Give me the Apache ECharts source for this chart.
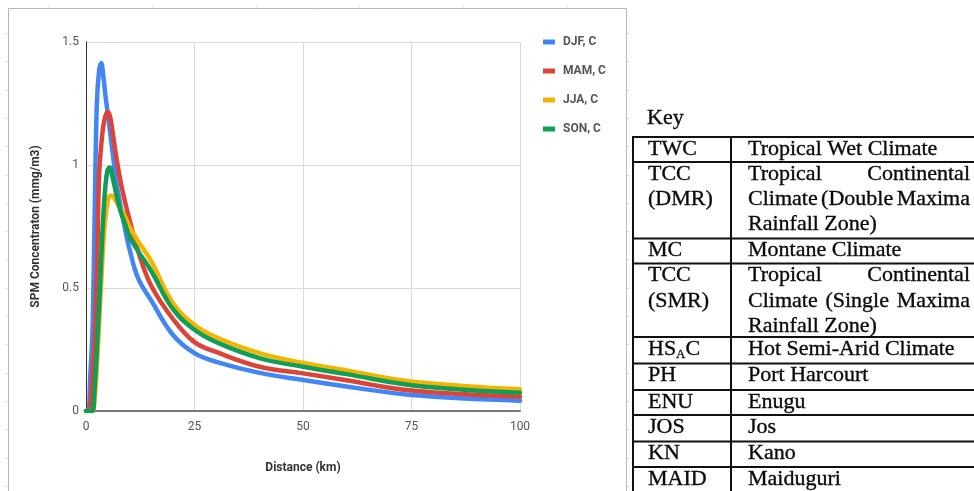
<!DOCTYPE html>
<html>
<head>
<meta charset="utf-8">
<script src="https://cdn.jsdelivr.net/npm/echarts@6/dist/echarts.min.js"></script>
<style>
  html, body { margin: 0; padding: 0; background: #ffffff; }
  #chart { width: 974px; height: 491px; }
</style>
</head>
<body>
<div id="chart"></div>
<script>
// Ground-level SPM concentration against downwind distance, stability class C
const distanceKm = [0, 0.5, 1, 1.5, 2, 2.5, 3, 3.5, 4, 4.5, 5, 5.5, 6, 7, 8, 9, 10, 12, 15, 20, 25, 30, 40, 50, 60, 75, 100];
const djf = [0, 0, 0.15, 0.33, 0.8, 1.25, 1.38, 1.415, 1.36, 1.28, 1.21, 1.14, 1.07, 0.93, 0.83, 0.74, 0.66, 0.54, 0.45, 0.31, 0.235, 0.2, 0.155, 0.126, 0.1, 0.065, 0.042];
const mam = [0, 0, 0.02, 0.15, 0.3, 0.55, 0.95, 1.08, 1.16, 1.2, 1.215, 1.2, 1.15, 1.03, 0.93, 0.85, 0.78, 0.65, 0.51, 0.375, 0.28, 0.24, 0.18, 0.153, 0.125, 0.083, 0.058];
const jja = [0, 0, 0, 0, 0.05, 0.18, 0.35, 0.52, 0.68, 0.79, 0.85, 0.875, 0.875, 0.85, 0.82, 0.79, 0.75, 0.69, 0.61, 0.44, 0.35, 0.3, 0.235, 0.195, 0.165, 0.12, 0.088];
const son = [0, 0, 0, 0, 0.1, 0.25, 0.42, 0.62, 0.8, 0.92, 0.98, 0.99, 0.96, 0.88, 0.81, 0.76, 0.71, 0.65, 0.57, 0.415, 0.33, 0.28, 0.215, 0.18, 0.15, 0.105, 0.074];

const seriesNames = ['DJF, C', 'MAM, C', 'JJA, C', 'SON, C'];
const seriesColors = ['#4285f4', '#db4437', '#f4b400', '#0f9d58'];

const xTicks = [0, 25, 50, 75, 100];
const yTicks = [0, 0.5, 1, 1.5];

// Key table content
const keyAbbr = [['TWC'], ['TCC', '(DMR)'], ['MC'], ['TCC', '(SMR)'], ['HSAC'], ['PH'], ['ENU'], ['JOS'], ['KN'], ['MAID']];
const keyDesc = [
  ['Tropical Wet Climate'],
  ['Tropical Continental', 'Climate (Double Maxima', 'Rainfall Zone)'],
  ['Montane Climate'],
  ['Tropical Continental', 'Climate (Single Maxima', 'Rainfall Zone)'],
  ['Hot Semi-Arid Climate'],
  ['Port Harcourt'],
  ['Enugu'],
  ['Jos'],
  ['Kano'],
  ['Maiduguri']
];

const chart = echarts.init(document.getElementById('chart'), null, { renderer: 'canvas' });

const allSeries = [djf, mam, jja, son].map(function (vals, i) {
  return {
    name: seriesNames[i],
    type: 'line',
    data: distanceKm.map(function (d, k) { return [d, vals[k]]; }),
    smooth: 0.4,
    showSymbol: false,
    symbol: 'none',
    lineStyle: { width: 4.5, color: seriesColors[i], cap: 'round', join: 'round' },
    itemStyle: { color: seriesColors[i] },
    emphasis: { disabled: true },
    z: 2 + i
  };
});

// ---- key table drawn as graphic elements ----
const serif = '"Liberation Serif", "DejaVu Serif", serif';
const tableFont = 22;
const ink = '#0a0a0a';
const rowTops = [137, 162, 238.5, 263.5, 337, 363.5, 390, 415, 441.5, 467];
const tableLeft = 633, colSplit = 731, tableRightText = 970, tableBottom = 495;
const abbrX = 648, descX = 748, lineStep = 25.3;

const measureCtx = document.createElement('canvas').getContext('2d');
measureCtx.font = tableFont + 'px ' + serif;

const graphics = [];
// outer chart frame
graphics.push({
  type: 'rect', silent: true, z: 0,
  shape: { x: 8.5, y: 8.5, width: 618, height: 520 },
  style: { fill: 'none', stroke: '#b8b8b8', lineWidth: 1 }
});
// faint ruler marks on the frame edges
for (let i = 0; i < 6; i++) {
  const x = Math.round(48 + 103.8 * i) + 0.5;
  graphics.push({ type: 'line', silent: true, shape: { x1: x, y1: 5, x2: x, y2: 8 }, style: { stroke: '#e4e4e4', lineWidth: 1 } });
}
for (let k = 0; k < 17; k++) {
  const y = Math.round(33 + 28.3 * k) + 0.5;
  graphics.push({ type: 'line', silent: true, shape: { x1: 5, y1: y, x2: 8, y2: y }, style: { stroke: '#e4e4e4', lineWidth: 1 } });
  graphics.push({ type: 'line', silent: true, shape: { x1: 627, y1: y, x2: 630, y2: y }, style: { stroke: '#e4e4e4', lineWidth: 1 } });
}

function textStyle(str, x, y) {
  return {
    text: str, x: x, y: y, font: tableFont + 'px ' + serif, fill: ink,
    stroke: ink, lineWidth: 0.35, textVerticalAlign: 'middle'
  };
}

// "Key" heading
graphics.push({ type: 'text', silent: true, style: textStyle('Key', 647, 118) });

// table rules
rowTops.forEach(function (y) {
  graphics.push({ type: 'line', silent: true, shape: { x1: tableLeft - 1, y1: y, x2: 980, y2: y }, style: { stroke: '#111', lineWidth: 2 } });
});
[tableLeft, colSplit].forEach(function (x) {
  graphics.push({ type: 'line', silent: true, shape: { x1: x, y1: rowTops[0], x2: x, y2: tableBottom }, style: { stroke: '#111', lineWidth: 2 } });
});

function addText(str, x, y) {
  graphics.push({ type: 'text', silent: true, style: textStyle(str, x, y) });
}

keyAbbr.forEach(function (lines, r) {
  lines.forEach(function (str, i) {
    const y = rowTops[r] + 12 + lineStep * i;
    if (str === 'HSAC') {
      graphics.push({
        type: 'text', silent: true,
        style: {
          text: '{a|HS}{s|A}{a|C}', x: abbrX, y: y, textVerticalAlign: 'middle',
          rich: {
            a: { fontFamily: serif, fontSize: tableFont, fill: ink, stroke: ink, lineWidth: 0.35, lineHeight: 24 },
            s: { fontFamily: serif, fontSize: 13, fill: ink, stroke: ink, lineWidth: 0.3, lineHeight: 24, verticalAlign: 'bottom' }
          }
        }
      });
    } else {
      addText(str, abbrX, y);
    }
  });
});

keyDesc.forEach(function (lines, r) {
  lines.forEach(function (str, i) {
    const y = rowTops[r] + 12 + lineStep * i;
    const justify = i < lines.length - 1;
    if (!justify) { addText(str, descX, y); return; }
    const words = str.split(' ');
    const widths = words.map(function (w) { return measureCtx.measureText(w).width; });
    const total = widths.reduce(function (a, b) { return a + b; }, 0);
    const avail = tableRightText - descX;
    let gap = words.length > 1 ? (avail - total) / (words.length - 1) : 0;
    if (gap < 3) gap = 3;
    let x = descX;
    words.forEach(function (w, k) { addText(w, x, y); x += widths[k] + gap; });
  });
});

const option = {
  backgroundColor: '#ffffff',
  animation: false,
  color: seriesColors,
  textStyle: { fontFamily: 'Roboto, "Liberation Sans", Arial, sans-serif' },
  grid: { left: 86, top: 42, right: 454, bottom: 80, containLabel: false },
  legend: {
    orient: 'vertical',
    left: 543,
    top: 35,
    padding: 0,
    itemWidth: 12,
    itemHeight: 5,
    itemGap: 15,
    icon: 'rect',
    selectedMode: false,
    data: seriesNames,
    textStyle: { color: '#555', fontSize: 12, fontWeight: 'bold', lineHeight: 14, padding: [0, 0, 0, 3] }
  },
  xAxis: {
    type: 'value',
    min: 0, max: 100, interval: 25,
    name: 'Distance (km)',
    nameLocation: 'middle',
    nameGap: 51,
    nameTextStyle: { color: '#333', fontSize: 12, fontWeight: 'bold' },
    axisLine: { show: true, onZero: false, lineStyle: { color: '#777', width: 2 } },
    axisTick: { show: false },
    axisLabel: {
      color: '#555', fontSize: 12, margin: 10,
      formatter: function (v) { return xTicks.indexOf(v) >= 0 ? String(v) : ''; }
    },
    splitLine: { show: true, lineStyle: { color: '#dadada', width: 1 } }
  },
  yAxis: {
    type: 'value',
    min: 0, max: 1.5, interval: 0.5,
    name: 'SPM Concentraton (mmg/m3)',
    nameLocation: 'middle',
    nameGap: 44,
    nameTextStyle: { color: '#333', fontSize: 12, fontWeight: 'bold' },
    axisLine: { show: true, lineStyle: { color: '#333', width: 1 } },
    axisTick: { show: false },
    axisLabel: {
      color: '#555', fontSize: 12, margin: 7,
      formatter: function (v) { return yTicks.indexOf(v) >= 0 ? String(v) : ''; }
    },
    splitLine: { show: true, lineStyle: { color: '#dadada', width: 1 } }
  },
  series: allSeries,
  graphic: graphics
};

chart.setOption(option);
</script>
</body>
</html>
